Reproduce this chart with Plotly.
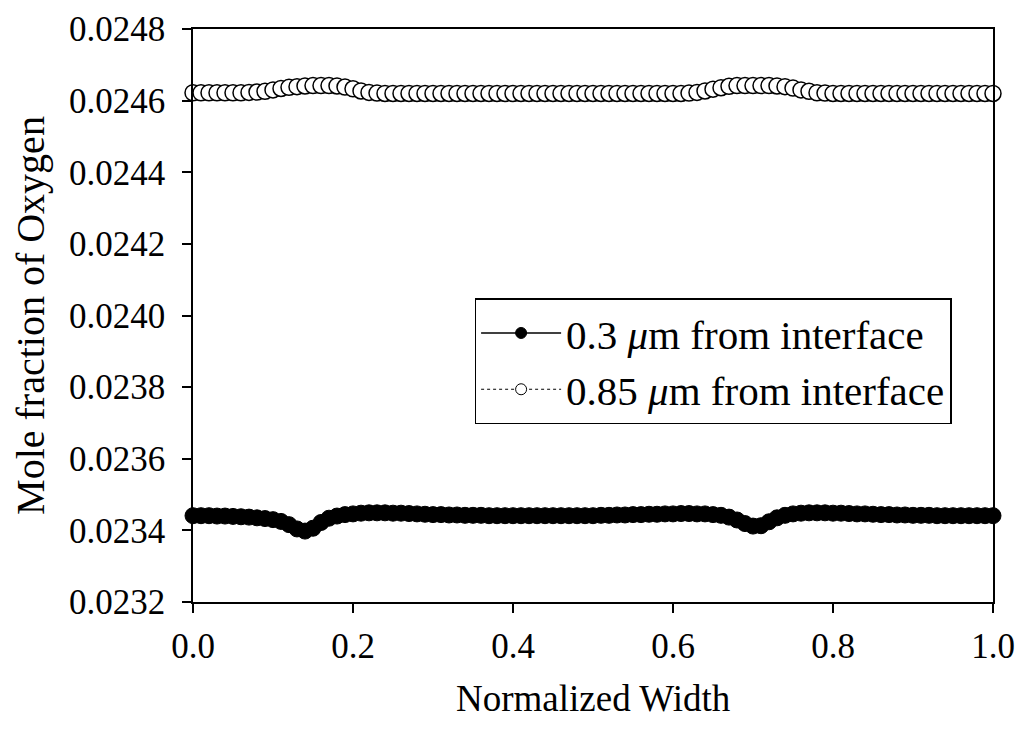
import plotly.graph_objects as go

x_vals = [round(i * 0.01, 2) for i in range(101)]

# 0.3 um from interface
y_03 = [
    0.023441, 0.023441, 0.023441, 0.023440, 0.023440, 0.023439, 0.023438, 0.023437, 0.023435, 0.023433,
    0.023430, 0.023425, 0.023416, 0.023404, 0.023398, 0.023406, 0.023422, 0.023434, 0.023440, 0.023444,
    0.023446, 0.023448, 0.023449, 0.023449, 0.023449, 0.023448, 0.023448, 0.023447, 0.023446, 0.023445,
    0.023444, 0.023444, 0.023443, 0.023443, 0.023442, 0.023442, 0.023442, 0.023441, 0.023441, 0.023441,
    0.023441, 0.023441, 0.023441, 0.023441, 0.023441, 0.023441, 0.023441, 0.023441, 0.023441, 0.023441,
    0.023441, 0.023442, 0.023442, 0.023443, 0.023443, 0.023444, 0.023444, 0.023445, 0.023445, 0.023446,
    0.023446, 0.023447, 0.023447, 0.023446, 0.023446, 0.023444, 0.023442, 0.023437, 0.023429, 0.023419,
    0.023412, 0.023413, 0.023424, 0.023435, 0.023442, 0.023446, 0.023448, 0.023449, 0.023449, 0.023449,
    0.023448, 0.023448, 0.023447, 0.023446, 0.023446, 0.023445, 0.023444, 0.023444, 0.023443, 0.023443,
    0.023442, 0.023442, 0.023442, 0.023441, 0.023441, 0.023441, 0.023441, 0.023441, 0.023441, 0.023441,
    0.023441,
]

# 0.85 um from interface
y_085 = [
    0.024622, 0.024622, 0.024622, 0.024622, 0.024622, 0.024622, 0.024622, 0.024623, 0.024624, 0.024626,
    0.024630, 0.024634, 0.024637, 0.024639, 0.024641, 0.024642, 0.024642, 0.024642, 0.024641, 0.024638,
    0.024633, 0.024627, 0.024623, 0.024621, 0.024620, 0.024620, 0.024620, 0.024620, 0.024620, 0.024620,
    0.024620, 0.024620, 0.024620, 0.024620, 0.024620, 0.024620, 0.024620, 0.024620, 0.024620, 0.024620,
    0.024620, 0.024620, 0.024620, 0.024620, 0.024620, 0.024620, 0.024620, 0.024620, 0.024620, 0.024620,
    0.024620, 0.024620, 0.024620, 0.024620, 0.024620, 0.024620, 0.024620, 0.024620, 0.024620, 0.024620,
    0.024620, 0.024620, 0.024621, 0.024623, 0.024627, 0.024632, 0.024636, 0.024640, 0.024642, 0.024642,
    0.024642, 0.024642, 0.024642, 0.024641, 0.024639, 0.024635, 0.024630, 0.024626, 0.024622, 0.024621,
    0.024620, 0.024620, 0.024620, 0.024620, 0.024620, 0.024620, 0.024620, 0.024620, 0.024620, 0.024620,
    0.024620, 0.024620, 0.024620, 0.024620, 0.024620, 0.024620, 0.024620, 0.024620, 0.024620, 0.024620,
    0.024620,
]

series_names = ["0.3 <i>μ</i>m from interface", "0.85 <i>μ</i>m from interface"]
x_ticks = [0.0, 0.2, 0.4, 0.6, 0.8, 1.0]
x_tick_text = ["0.0", "0.2", "0.4", "0.6", "0.8", "1.0"]
y_ticks = [0.0232, 0.0234, 0.0236, 0.0238, 0.0240, 0.0242, 0.0244, 0.0246, 0.0248]
y_tick_text = ["0.0232", "0.0234", "0.0236", "0.0238", "0.0240", "0.0242", "0.0244", "0.0246", "0.0248"]

FONT = "Liberation Serif, Times New Roman, serif"

fig = go.Figure()

fig.add_trace(go.Scatter(
    x=x_vals, y=y_03, mode="lines+markers", showlegend=False,
    line=dict(color="black", width=1.5),
    marker=dict(symbol="circle", size=16, color="black", line=dict(color="black", width=1)),
    cliponaxis=False,
))
fig.add_trace(go.Scatter(
    x=x_vals, y=y_085, mode="lines+markers", showlegend=False,
    line=dict(color="black", width=1, dash="dot"),
    marker=dict(symbol="circle", size=16, color="white", line=dict(color="black", width=1.5)),
    cliponaxis=False,
))

# legend entries
fig.add_trace(go.Scatter(
    x=[None], y=[None], mode="lines+markers", name=series_names[0],
    line=dict(color="black", width=1.5),
    marker=dict(symbol="circle", size=11, color="black", line=dict(color="black", width=1)),
))
fig.add_trace(go.Scatter(
    x=[None], y=[None], mode="lines+markers", name=series_names[1],
    line=dict(color="black", width=1, dash="dot"),
    marker=dict(symbol="circle", size=11, color="white", line=dict(color="black", width=1)),
))

fig.update_layout(
    width=1007, height=713,
    margin=dict(l=185, r=22, t=21, b=119),
    paper_bgcolor="white", plot_bgcolor="white",
    font=dict(family=FONT, color="black", size=34),
    legend=dict(
        x=0.352, y=0.53, xanchor="left", yanchor="top",
        bgcolor="white", bordercolor="black", borderwidth=1.5,
        font=dict(family=FONT, size=41, color="black"),
        itemwidth=80, tracegroupgap=0,
    ),
    xaxis=dict(
        range=[0, 1], tickvals=x_ticks, ticktext=x_tick_text,
        ticks="outside", ticklen=9, tickwidth=1.5, tickcolor="black",
        showline=True, linecolor="black", linewidth=1.5, mirror=True,
        showgrid=False, zeroline=False, automargin=False,
        tickfont=dict(family=FONT, size=35),
        ticklabelstandoff=3, ticklabeloverflow="allow",
    ),
    yaxis=dict(
        range=[0.0232, 0.0248], tickvals=y_ticks, ticktext=y_tick_text,
        ticks="outside", ticklen=9, tickwidth=1.5, tickcolor="black",
        showline=True, linecolor="black", linewidth=1.5, mirror=True,
        showgrid=False, zeroline=False, automargin=False,
        tickfont=dict(family=FONT, size=35),
        ticklabelstandoff=10, ticklabeloverflow="allow",
        title=dict(text="Mole fraction of Oxygen", font=dict(family=FONT, size=40), standoff=14),
    ),
    annotations=[dict(
        text="Normalized Width", xref="paper", yref="paper", x=0.5, y=0,
        xanchor="center", yanchor="middle", yshift=-96, showarrow=False,
        font=dict(family=FONT, size=37, color="black"),
    )],
)

fig.write_html("out.html")
